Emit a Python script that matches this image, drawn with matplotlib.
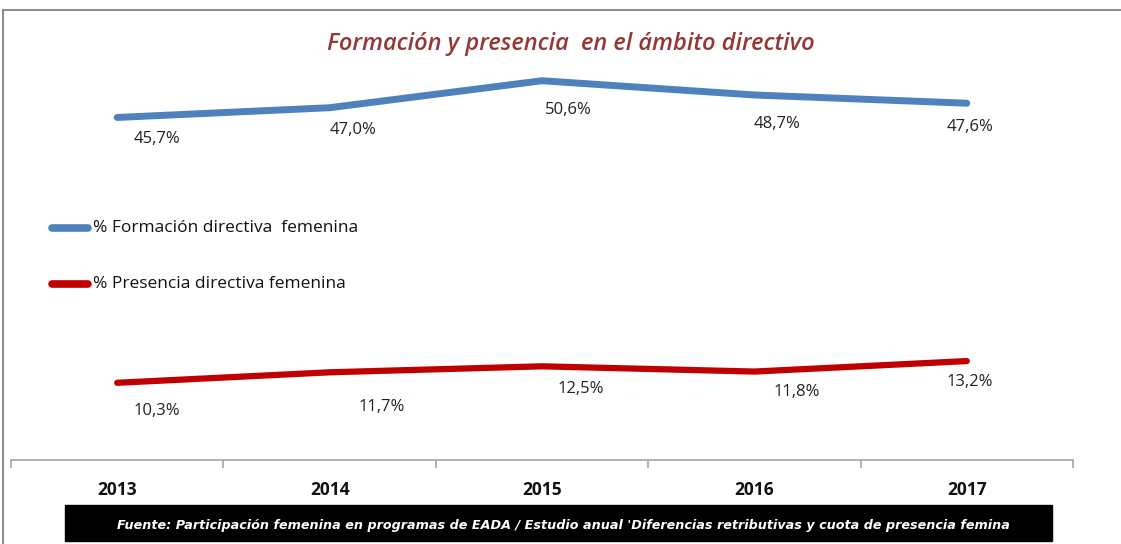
import matplotlib.pyplot as plt
from matplotlib.patches import Rectangle
from matplotlib.lines import Line2D

plt.rcParams['font.family'] = ['Open Sans', 'DejaVu Sans']

years = ['2013', '2014', '2015', '2016', '2017']
formacion = [45.7, 47.0, 50.6, 48.7, 47.6]
presencia = [10.3, 11.7, 12.5, 11.8, 13.2]

W, H = 1121, 544
fig = plt.figure(figsize=(W / 100, H / 100), dpi=100)
fig.patch.set_facecolor('white')

# axes placed in pixel terms
left, right = 11, 1073
ybot, ytop = 460, 56
ax = fig.add_axes([left / W, 1 - ybot / H, (right - left) / W, (ybot - ytop) / H])
ax.set_xlim(-0.5, 4.5)
ax.set_ylim(0, 53.9)
ax.set_facecolor('none')

x = range(len(years))
ax.plot(x, formacion, color='#4F81BD', lw=5, solid_capstyle='round')
ax.plot(x, presencia, color='#C00000', lw=4.5, solid_capstyle='round')

def pct(v):
    return f'{v:.1f}%'.replace('.', ',')

blue_off = [(40, -22), (23, -22), (26, -29), (23, -29), (3, -24)]
red_off = [(40, -28), (52, -35), (39, -23), (42, -20), (3, -21)]
for i, v in enumerate(formacion):
    ax.annotate(pct(v), (i, v), xytext=blue_off[i], textcoords='offset pixels',
                ha='center', va='center', fontsize=12, color='#222222')
for i, v in enumerate(presencia):
    ax.annotate(pct(v), (i, v), xytext=red_off[i], textcoords='offset pixels',
                ha='center', va='center', fontsize=12, color='#222222')

for s in ['top', 'right', 'left']:
    ax.spines[s].set_visible(False)
ax.spines['bottom'].set_color('#A6A6A6')
ax.spines['bottom'].set_linewidth(1.2)
ax.set_yticks([])
ax.set_xticks(list(x))
ax.set_xticklabels(years, fontsize=12.5, fontweight='bold', color='#111111')
ax.tick_params(axis='x', which='major', length=0, pad=15)
ax.set_xticks([i - 0.5 for i in range(len(years) + 1)], minor=True)
ax.tick_params(axis='x', which='minor', length=6, color='#A6A6A6', width=1.2)

# outer border (left and top)
fig.add_artist(Line2D([3 / W, 3 / W], [0, 1 - 10 / H], transform=fig.transFigure,
                      color='#8C8C8C', lw=1.5))
fig.add_artist(Line2D([3 / W, 1], [1 - 10 / H, 1 - 10 / H], transform=fig.transFigure,
                      color='#8C8C8C', lw=1.5))

fig.text(571 / W, 1 - 44 / H, 'Formación y presencia  en el ámbito directivo',
         ha='center', va='center', fontsize=17, style='italic', fontweight='semibold',
         color='#953735')

# legend
leg_y = [228, 284]
leg_c = ['#4F81BD', '#C00000']
leg_t = ['% Formación directiva  femenina', '% Presencia directiva femenina']
for yy, c, t in zip(leg_y, leg_c, leg_t):
    fig.add_artist(Line2D([52 / W, 88 / W], [1 - yy / H] * 2, transform=fig.transFigure,
                          color=c, lw=5.5, solid_capstyle='round'))
    fig.text(93 / W, 1 - yy / H, t, ha='left', va='center', fontsize=12.5, color='#111111')

# source box
fig.add_artist(Rectangle((65 / W, 1 - 541 / H), (1052 - 65) / W, 36 / H,
                         transform=fig.transFigure, color='black'))
fig.text(563 / W, 1 - 525 / H,
         "Fuente: Participación femenina en programas de EADA / Estudio anual 'Diferencias retributivas y cuota de presencia femina",
         ha='center', va='center', fontsize=9.2, style='italic', fontweight='bold',
         color='white', family=['Liberation Sans Narrow', 'DejaVu Sans'])

fig.savefig('out.png', dpi=100)
